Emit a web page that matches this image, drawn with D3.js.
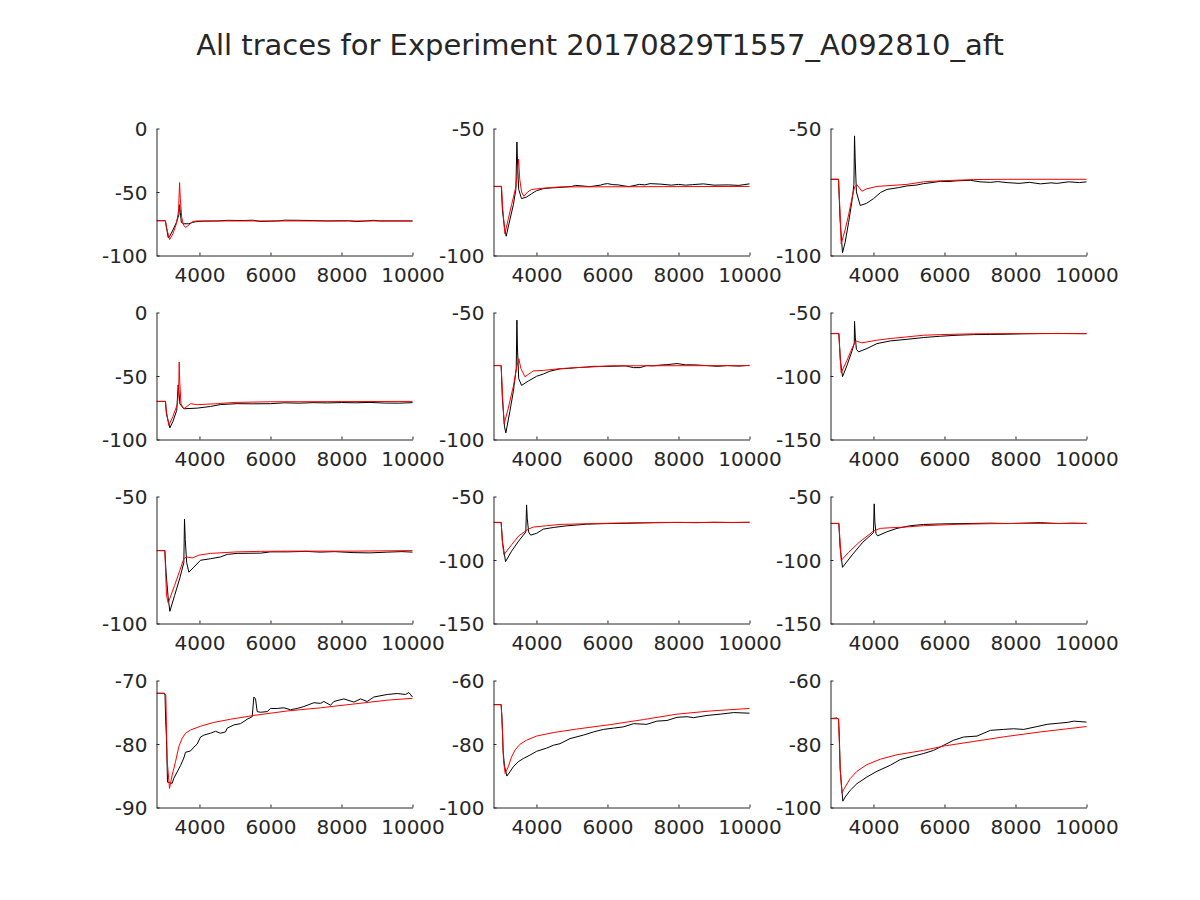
<!DOCTYPE html>
<html>
<head>
<meta charset="utf-8">
<script src="https://cdn.jsdelivr.net/npm/d3@7"></script>
<style>
  body { margin: 0; background: #fff; }
  text { font-family: "DejaVu Sans", sans-serif; fill: #262626; }
</style>
</head>
<body>
<div id="chart"></div>
<script>
// Chart text and axes
var title = "All traces for Experiment 20170829T1557_A092810_aft";
var xExtent = [2790, 10000];
var xTicks = [4000, 6000, 8000, 10000];
var yDomains = [[-100, 0], [-100, -50], [-100, -50],
                [-100, 0], [-100, -50], [-150, -50],
                [-100, -50], [-150, -50], [-150, -50],
                [-90, -70], [-100, -60], [-100, -60]];
var yTicks = [[-100, -50, 0], [-100, -50], [-100, -50],
              [-100, -50, 0], [-100, -50], [-150, -100, -50],
              [-100, -50], [-150, -100, -50], [-150, -100, -50],
              [-90, -80, -70], [-100, -80, -60], [-100, -80, -60]];

// recorded traces (black) and fitted traces (red), [time, value]
var p1k = [[2790,-72.6],[3040,-72.6],[3060,-76],[3120,-86],[3160,-85],[3250,-80],[3350,-74],[3420,-68],[3440,-60],[3460,-66],[3490,-74],[3550,-75],[3700,-75],[3800,-74],[3900,-73.4],[4100,-73],[4500,-72.8],[4800,-72.3],[5200,-72.5],[5500,-72.2],[5700,-73.2],[6000,-73.0],[6200,-72.8],[6400,-72.2],[6800,-72.3],[7200,-72.5],[7600,-72.8],[8200,-72.6],[8400,-73.3],[8700,-72.8],[8900,-72.3],[9100,-72.8],[10000,-72.8]];
var p1r = [[2790,-72.6],[3040,-72.6],[3070,-78],[3160,-87.4],[3250,-83],[3350,-75],[3410,-65],[3440,-42.6],[3460,-55],[3500,-70],[3550,-76],[3610,-78],[3700,-76],[3800,-73.5],[3900,-72.8],[10000,-72.8]];

var p2k = [[2790,-72.8],[3010,-72.8],[3040,-82],[3100,-89],[3148,-92.4],[3250,-86],[3350,-80],[3420,-74],[3449,-55.3],[3470,-65],[3500,-74],[3580,-77.6],[3720,-77],[3860,-75.7],[4000,-74.5],[4190,-73.7],[4400,-73.4],[4660,-73.2],[5000,-72.8],[5100,-72.4],[5200,-72.5],[5500,-72.9],[5800,-72.3],[5900,-71.9],[6000,-71.7],[6150,-72.1],[6300,-72.2],[6600,-72.9],[6900,-72.0],[7050,-72.2],[7200,-71.7],[7500,-71.9],[7800,-72.3],[8000,-72.0],[8200,-72.3],[8400,-72.1],[8700,-71.8],[9000,-72.3],[9400,-72.2],[9700,-72.4],[10000,-71.8]];
var p2r = [[2790,-72.8],[3016,-72.8],[3044,-80.3],[3110,-91.4],[3200,-86],[3300,-80],[3420,-73],[3470,-66],[3496,-62.1],[3530,-70],[3580,-75],[3646,-76.7],[3750,-75],[3863,-74],[4192,-73.5],[4660,-73],[10000,-72.8]];

var p3k = [[2790,-70],[3016,-70],[3060,-86],[3128,-98.9],[3200,-95],[3300,-87],[3400,-78],[3450,-72],[3467,-52.9],[3485,-62],[3520,-75],[3627,-80.3],[3800,-79.5],[4003,-77.6],[4200,-75.2],[4379,-74],[4700,-73.3],[4943,-72.6],[5200,-72.3],[5413,-71.7],[5650,-71.3],[5883,-70.8],[6100,-70.9],[6353,-70.6],[6729,-70.4],[7000,-71],[7300,-71.2],[7500,-70.9],[7763,-71.3],[8100,-71.6],[8400,-71.2],[8700,-71.8],[9000,-71.4],[9173,-71.6],[9500,-71.0],[9800,-71.3],[10000,-71.0]];
var p3r = [[2790,-70],[3016,-70],[3063,-84.2],[3091,-95.4],[3200,-90],[3300,-84],[3400,-77],[3470,-73],[3533,-72.1],[3674,-74.7],[3800,-73.8],[4097,-72.8],[4943,-72],[5413,-71],[5883,-70.6],[6823,-70.1],[7763,-70],[10000,-70]];

var p4k = [[2790,-70],[3043,-70],[3070,-80],[3166,-90.8],[3250,-86],[3360,-77],[3400,-57],[3420,-62],[3450,-72],[3560,-75.8],[3936,-75.3],[4311,-74],[4593,-72.5],[5062,-71.8],[5500,-71.9],[6001,-71.8],[6400,-71.1],[6800,-71.4],[7200,-71],[7600,-71.2],[8000,-70.9],[8400,-71.1],[8800,-70.8],[9200,-71.3],[9600,-71.4],[10000,-71]];
var p4r = [[2790,-70],[3043,-70],[3062,-76.6],[3137,-88.9],[3250,-82],[3380,-72],[3415,-60],[3429,-39],[3445,-55],[3480,-72],[3560,-75.8],[3748,-71.8],[3936,-72.6],[4500,-71.8],[5000,-70.8],[6000,-70.3],[10000,-70]];

var p5k = [[2790,-70.9],[3006,-70.9],[3040,-84],[3100,-95],[3138,-97.4],[3250,-89],[3350,-81],[3430,-72],[3449,-53],[3465,-64],[3500,-76],[3580,-78.7],[3769,-77],[4004,-75.1],[4200,-74.2],[4380,-73.1],[4663,-72.2],[4900,-72.0],[5133,-71.7],[5400,-71.5],[5604,-71.2],[6074,-71.2],[6500,-71.0],[6733,-71.7],[6921,-71.7],[7100,-70.9],[7300,-71.0],[7486,-70.7],[7700,-70.5],[7957,-70.1],[8200,-70.6],[8427,-70.6],[8800,-70.9],[9100,-71.2],[9368,-70.9],[9700,-71.1],[10000,-70.8]];
var p5r = [[2790,-70.9],[3006,-70.9],[3044,-82.6],[3091,-93.8],[3200,-88],[3350,-79],[3450,-71],[3505,-68.2],[3560,-72],[3675,-75.3],[3910,-73],[4192,-72.8],[4663,-72.1],[5133,-71.7],[5604,-71.4],[6074,-71.0],[10000,-70.9]];

var p6k = [[2790,-66.6],[3025,-66.6],[3070,-88],[3128,-100.5],[3250,-92],[3400,-80],[3460,-74],[3467,-57],[3490,-70],[3520,-79],[3580,-81],[3815,-78.4],[4097,-74.5],[4473,-72.4],[4943,-71.1],[5413,-69.7],[5883,-68.7],[6353,-67.9],[6823,-67.4],[7300,-67.3],[7763,-67.1],[8200,-66.8],[8703,-66.6],[9200,-66.5],[10000,-66.7]];
var p6r = [[2790,-66.6],[3025,-66.6],[3063,-86.3],[3091,-97.4],[3250,-88],[3400,-78],[3504,-72.4],[3674,-73.9],[4097,-71.8],[4473,-70.5],[4943,-69.2],[5413,-67.9],[5883,-67.4],[6823,-66.8],[7763,-66.6],[10000,-66.6]];

var p7k = [[2790,-71.3],[3025,-71.3],[3060,-80],[3120,-90],[3166,-95.2],[3300,-89],[3450,-82],[3560,-76],[3579,-58.9],[3600,-67],[3640,-76],[3701,-79.8],[3842,-77.8],[4030,-75.1],[4311,-74.5],[4593,-73.8],[4781,-72.8],[5062,-72.4],[5720,-72.3],[6001,-71.8],[6471,-71.8],[7000,-71.6],[7400,-71.9],[7800,-71.7],[8349,-72.1],[8800,-72.2],[9288,-71.9],[9700,-71.7],[10000,-71.9]];
var p7r = [[2790,-71.3],[3025,-71.3],[3072,-89],[3119,-91.9],[3300,-85],[3450,-79],[3560,-74.5],[3635,-73.8],[3795,-74.2],[3983,-73.1],[4311,-72.4],[5062,-71.8],[5720,-71.6],[6471,-71.5],[8349,-71.5],[10000,-71.3]];

var p8k = [[2790,-70.4],[3006,-70.4],[3040,-85],[3129,-101.3],[3300,-93],[3500,-85],[3700,-78],[3722,-56.6],[3740,-67],[3780,-78],[3835,-80.4],[4004,-79],[4192,-75.7],[4474,-74.4],[4851,-73.1],[5416,-71.8],[5980,-71.3],[6545,-71.1],[7000,-70.8],[7486,-70.6],[7957,-70.4],[8500,-70.6],[9000,-70.3],[9500,-70.5],[10000,-70.3]];
var p8r = [[2790,-70.4],[3006,-70.4],[3044,-87],[3082,-95.8],[3300,-88],[3500,-81],[3769,-75.7],[3910,-74.1],[4286,-73],[4663,-72],[5604,-71.3],[6545,-70.8],[7486,-70.4],[10000,-70.4]];

var p9k = [[2790,-71.2],[3025,-71.2],[3060,-90],[3128,-105.8],[3400,-96],[3700,-86],[4000,-78.5],[4021,-55.8],[4040,-70],[4070,-79],[4116,-81],[4379,-77.8],[4661,-75.1],[5037,-73],[5413,-72],[5883,-71.6],[6353,-71.4],[6800,-71.2],[7293,-71.0],[7800,-71.3],[8233,-71.0],[8700,-70.6],[9200,-71.3],[9600,-71.0],[10000,-71.2]];
var p9r = [[2790,-71.2],[3025,-71.2],[3063,-86.7],[3091,-100.3],[3300,-94],[3600,-86],[4003,-77.2],[4191,-75.1],[4473,-74.6],[4755,-74.3],[5413,-73],[6353,-71.9],[7293,-71.4],[8233,-71.2],[10000,-71.2]];

var p10k = [[2790,-72],[3010,-72],[3030,-72.3],[3050,-76.5],[3070,-79],[3100,-86],[3166,-86.1],[3231,-86.2],[3278,-85.4],[3372,-84.4],[3466,-83.4],[3560,-82.2],[3607,-81.3],[3748,-81.1],[3842,-80.5],[3936,-80],[4030,-78.9],[4123,-78.6],[4311,-78.3],[4452,-78],[4593,-78.3],[4734,-78.1],[4781,-77.5],[4968,-77],[5156,-76.8],[5344,-76.1],[5485,-75.7],[5532,-72.6],[5579,-72.9],[5626,-74.9],[5720,-75],[5907,-74.9],[6001,-74.4],[6189,-74.4],[6377,-74.3],[6565,-74.6],[6753,-74.4],[6940,-74.1],[7222,-73.5],[7410,-73.6],[7504,-73.3],[7692,-73.9],[7785,-73.3],[8067,-72.9],[8349,-73.4],[8537,-72.9],[8724,-73.3],[8912,-72.6],[9288,-72.2],[9570,-72.05],[9804,-72.2],[9898,-71.9],[10000,-72.6]];
var p10r = [[2790,-72.05],[3025,-72.05],[3053,-72.3],[3090,-82.5],[3156,-87],[3231,-84.9],[3325,-82.8],[3419,-80.4],[3513,-79.1],[3607,-78.3],[3748,-77.8],[4030,-77.2],[4405,-76.6],[4875,-76.1],[5532,-75.5],[6471,-74.8],[7410,-74.3],[8349,-73.7],[9288,-73.1],[10000,-72.8]];

var p11k = [[2790,-67.6],[3006,-67.6],[3030,-72],[3060,-82],[3100,-87],[3166,-90.1],[3251,-88.8],[3345,-87.2],[3486,-85.6],[3627,-84.6],[3816,-83.5],[4004,-82.3],[4286,-81.3],[4474,-80.4],[4663,-79.9],[4945,-78.3],[5321,-77.2],[5604,-76.2],[5886,-75.4],[6168,-75],[6451,-74.6],[6733,-73.6],[7109,-73.8],[7392,-72.8],[7674,-72.6],[7957,-71.6],[8239,-71.4],[8427,-71.7],[8803,-71.0],[9179,-70.6],[9556,-70.1],[10000,-70.3]];
var p11r = [[2790,-67.6],[3006,-67.6],[3044,-76.2],[3072,-85.3],[3119,-89.3],[3204,-87.2],[3298,-84.1],[3392,-82],[3533,-80.1],[3722,-78.8],[4004,-77.5],[4474,-76.4],[5133,-75.3],[6074,-73.9],[7015,-72.3],[7957,-70.6],[8897,-69.6],[10000,-68.8]];

var p12k = [[2790,-72],[2969,-71.8],[3016,-72.2],[3040,-78],[3063,-88],[3100,-93],[3138,-98],[3204,-96.7],[3345,-94.6],[3533,-92.5],[3815,-90.4],[4097,-88.6],[4473,-86.7],[4755,-84.9],[5131,-83.8],[5413,-83],[5695,-82],[5977,-80.4],[6259,-78.8],[6541,-77.8],[6917,-77.5],[7293,-75.7],[7669,-75.4],[7945,-75.2],[8233,-75.4],[8609,-74.5],[8891,-73.8],[9173,-73.5],[9455,-73.2],[9643,-72.8],[10000,-73.1]];
var p12r = [[2790,-72],[3016,-72],[3063,-87.8],[3110,-95.4],[3204,-93.5],[3345,-90.9],[3533,-88.6],[3815,-86.5],[4191,-84.8],[4661,-83.4],[5413,-82],[6005,-80.6],[6823,-79.2],[7763,-77.6],[8703,-76.2],[10000,-74.5]];

var blackTraces = [p1k, p2k, p3k, p4k, p5k, p6k, p7k, p8k, p9k, p10k, p11k, p12k];
var redTraces = [p1r, p2r, p3r, p4r, p5r, p6r, p7r, p8r, p9r, p10r, p11r, p12r];

// Layout
var W = 1200, H = 900;
var colLeft = [156, 493, 830];
var rowTop = [128, 312, 496, 680];
var pw = 256, ph = 127;
var tickLen = 3;
var axisColor = "#262626";

var svg = d3.select("#chart").append("svg")
    .attr("width", W)
    .attr("height", H);

svg.append("text")
    .attr("x", 600)
    .attr("y", 45)
    .attr("text-anchor", "middle")
    .attr("dominant-baseline", "central")
    .style("font-size", "29px")
    .text(title);

var xScale = d3.scaleLinear().domain(xExtent).range([0, pw]);
var plainNum = function(d) { return String(d); };  // hyphen-minus like the original

blackTraces.forEach(function(bk, i) {
    var col = i % 3, row = Math.floor(i / 3);
    var g = svg.append("g")
        .attr("transform", "translate(" + (colLeft[col] + 0.5) + "," + (rowTop[row] + 0.5) + ")");

    var yScale = d3.scaleLinear().domain(yDomains[i]).range([ph, 0]);

    g.append("clipPath").attr("id", "clip" + i)
      .append("rect").attr("x", 0).attr("y", -1).attr("width", pw + 1).attr("height", ph + 2);

    var line = d3.line()
        .x(function(d) { return xScale(d[0]); })
        .y(function(d) { return yScale(d[1]); });

    var plot = g.append("g").attr("clip-path", "url(#clip" + i + ")");
    plot.append("path")
        .datum(bk)
        .attr("fill", "none")
        .attr("stroke", "#000")
        .attr("stroke-width", 1)
        .attr("d", line);
    plot.append("path")
        .datum(redTraces[i])
        .attr("fill", "none")
        .attr("stroke", "#ff0000")
        .attr("stroke-width", 1)
        .attr("d", line);

    // x axis (ticks point inward)
    var xAxis = d3.axisBottom(xScale)
        .tickValues(xTicks)
        .tickSizeInner(-tickLen)
        .tickSizeOuter(0)
        .tickFormat(plainNum);
    var gx = g.append("g")
        .attr("transform", "translate(0," + ph + ")")
        .call(xAxis);
    gx.select(".domain").attr("stroke", axisColor);
    gx.selectAll(".tick line").attr("stroke", axisColor);
    gx.selectAll(".tick text")
        .attr("y", 26)
        .attr("dy", null)
        .style("font-size", "20px")
        .style("font-family", "DejaVu Sans, sans-serif")
        .attr("fill", axisColor);

    // y axis
    var yAxis = d3.axisLeft(yScale)
        .tickValues(yTicks[i])
        .tickSizeInner(-tickLen)
        .tickSizeOuter(0)
        .tickFormat(plainNum);
    var gy = g.append("g").call(yAxis);
    gy.select(".domain").attr("stroke", axisColor);
    gy.selectAll(".tick line").attr("stroke", axisColor);
    gy.selectAll(".tick text")
        .attr("x", -9)
        .attr("dy", "0.36em")
        .style("font-size", "20px")
        .style("font-family", "DejaVu Sans, sans-serif")
        .attr("fill", axisColor);
});
</script>
</body>
</html>
